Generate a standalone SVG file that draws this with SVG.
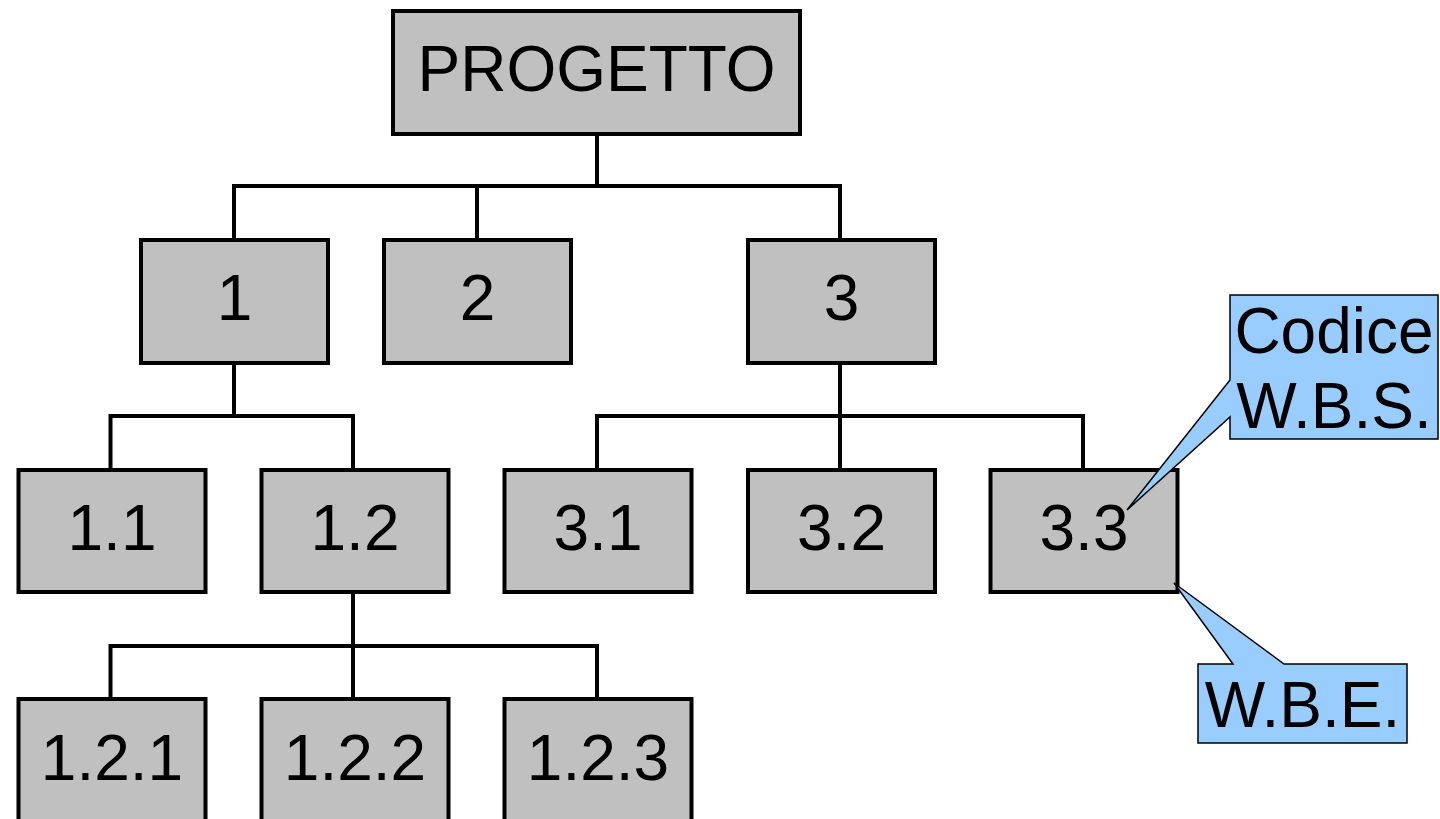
<svg xmlns="http://www.w3.org/2000/svg" width="1440" height="819" viewBox="0 0 1440 819">
<style>
.box{fill:#c0c0c0;stroke:#000;stroke-width:4}
.lbl{font-family:"Liberation Sans",Arial,sans-serif;font-size:64px;fill:#000;text-anchor:middle}
.conn{fill:none;stroke:#000;stroke-width:4;stroke-linecap:square;stroke-linejoin:miter}
.call{fill:#99ccff;stroke:#000;stroke-width:1.5;stroke-linejoin:miter}
</style>
<rect width="1440" height="819" fill="#fff"/>
<g id="connectors">
<path class="conn" d="M597,134 V186"/>
<path class="conn" d="M234,240 V186 H840 V240"/>
<path class="conn" d="M477,186 V240"/>
<path class="conn" d="M234,363 V416"/>
<path class="conn" d="M110.5,470 V416 H353 V470"/>
<path class="conn" d="M840,363 V470"/>
<path class="conn" d="M597,470 V416 H1083 V470"/>
<path class="conn" d="M353,592 V699"/>
<path class="conn" d="M110.5,699 V646 H597 V699"/>
</g>
<g id="n-progetto"><rect class="box" x="393" y="11" width="407" height="123"/><text class="lbl" x="596.5" y="91">PROGETTO</text></g>
<g id="n-1"><rect class="box" x="141" y="240" width="187" height="123"/><text class="lbl" x="234.5" y="320">1</text></g>
<g id="n-2"><rect class="box" x="384" y="240" width="187" height="123"/><text class="lbl" x="477.5" y="320">2</text></g>
<g id="n-3"><rect class="box" x="748" y="240" width="187" height="123"/><text class="lbl" x="841.5" y="320">3</text></g>
<g id="n-1-1"><rect class="box" x="18.5" y="470" width="187" height="122"/><text class="lbl" x="112" y="550">1.1</text></g>
<g id="n-1-2"><rect class="box" x="261.5" y="470" width="187" height="122"/><text class="lbl" x="355" y="550">1.2</text></g>
<g id="n-3-1"><rect class="box" x="504.5" y="470" width="187" height="122"/><text class="lbl" x="598" y="550">3.1</text></g>
<g id="n-3-2"><rect class="box" x="748" y="470" width="187" height="122"/><text class="lbl" x="841.5" y="550">3.2</text></g>
<g id="n-3-3"><rect class="box" x="990.5" y="470" width="187" height="122"/><text class="lbl" x="1084" y="550">3.3</text></g>
<g id="n-1-2-1"><rect class="box" x="18.5" y="699" width="187" height="130"/><text class="lbl" x="112" y="780">1.2.1</text></g>
<g id="n-1-2-2"><rect class="box" x="261.5" y="699" width="187" height="130"/><text class="lbl" x="355" y="780">1.2.2</text></g>
<g id="n-1-2-3"><rect class="box" x="504.5" y="699" width="187" height="130"/><text class="lbl" x="598" y="780">1.2.3</text></g>
<g id="callout-wbs"><path class="call" d="M1230,295 H1438 V439 H1230 V417 L1127,510 L1230,380 Z"/><text class="lbl" x="1334" y="353">Codice</text><text class="lbl" x="1334" y="428">W.B.S.</text></g>
<g id="callout-wbe"><path class="call" d="M1198,664 H1233 L1174,583 L1284,664 H1407 V743 H1198 Z"/><text class="lbl" x="1302.5" y="727">W.B.E.</text></g>
</svg>
